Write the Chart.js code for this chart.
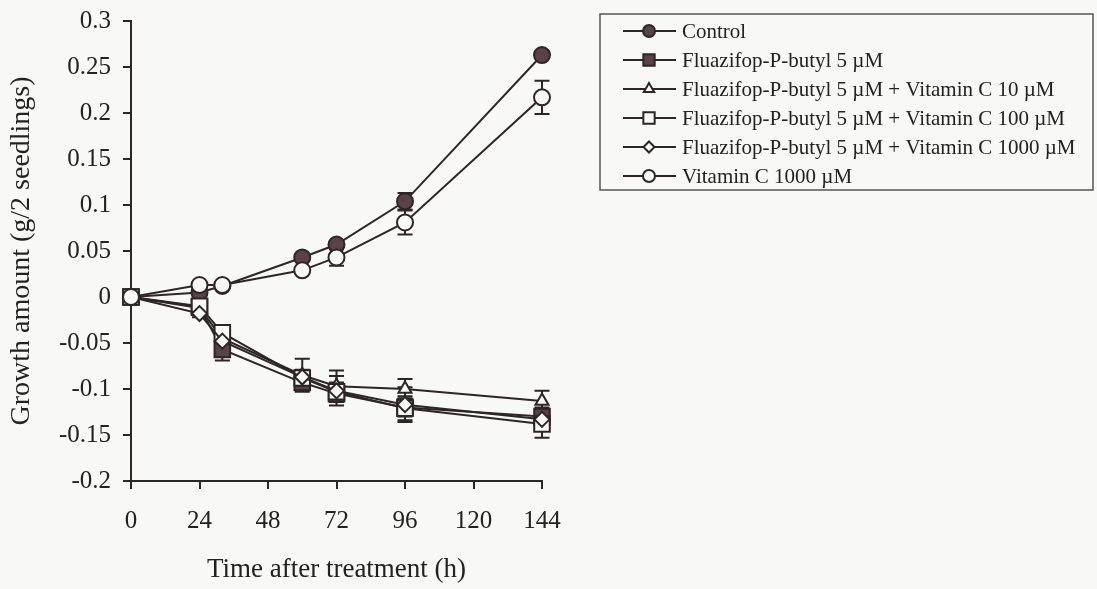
<!DOCTYPE html>
<html>
<head>
<meta charset="utf-8">
<script src="https://cdn.jsdelivr.net/npm/chart.js@4/dist/chart.umd.min.js"></script>
<style>
  html, body { margin: 0; padding: 0; background: #f8f8f6; }
  #wrap { width: 1097px; height: 589px; }
</style>
</head>
<body>
<div id="wrap"><canvas id="c" width="1097" height="589"></canvas></div>
<script>
// Sampling times (h)
const hours = [0, 24, 32, 60, 72, 96, 144];

// Growth amount (g/2 seedlings) per treatment
const control      = [0, 0.005, 0.012, 0.043, 0.057, 0.104, 0.263];
const fpb5         = [0, -0.011, -0.057, -0.093, -0.105, -0.120, -0.130];
const fpb5Vc10     = [0, -0.012, -0.045, -0.085, -0.097, -0.100, -0.113];
const fpb5Vc100    = [0, -0.010, -0.039, -0.088, -0.103, -0.121, -0.138];
const fpb5Vc1000   = [0, -0.018, -0.048, -0.087, -0.102, -0.117, -0.133];
const vc1000       = [0, 0.013, 0.013, 0.029, 0.043, 0.081, 0.217];

// Standard errors
const controlErr    = [0, 0.002, 0.002, 0.003, 0.004, 0.009, 0.004];
const fpb5Err       = [0, 0.004, 0.012, 0.008, 0.006, 0.010, 0.010];
const fpb5Vc10Err   = [0, 0.004, 0.008, 0.018, 0.017, 0.011, 0.011];
const fpb5Vc100Err  = [0, 0.004, 0.006, 0.008, 0.010, 0.013, 0.015];
const fpb5Vc1000Err = [0, 0.004, 0.006, 0.008, 0.016, 0.019, 0.010];
const vc1000Err     = [0, 0.002, 0.002, 0.003, 0.009, 0.013, 0.018];

const seriesLabels = [
  'Control',
  'Fluazifop-P-butyl 5 \u00b5M',
  'Fluazifop-P-butyl 5 \u00b5M + Vitamin C 10 \u00b5M',
  'Fluazifop-P-butyl 5 \u00b5M + Vitamin C 100 \u00b5M',
  'Fluazifop-P-butyl 5 \u00b5M + Vitamin C 1000 \u00b5M',
  'Vitamin C 1000 \u00b5M'
];

const xTicks = [0, 24, 48, 72, 96, 120, 144];

const INK = '#2d2527';
const FILL_DARK = '#5b4148';
const PAPER = '#f8f8f6';
const SERIF = '"Liberation Serif", "Times New Roman", serif';

function pts(vals) { return vals.map((v, i) => ({ x: hours[i], y: v })); }

const styles = [
  { pointStyle: 'circle',   radius: 8,  fill: FILL_DARK, legendRadius: 6 },
  { pointStyle: 'rect',     radius: 11, fill: FILL_DARK, legendRadius: 8 },
  { pointStyle: 'triangle', radius: 7.5, fill: PAPER,    legendRadius: 6 },
  { pointStyle: 'rect',     radius: 11, fill: PAPER,     legendRadius: 8 },
  { pointStyle: 'rectRot',  radius: 7.5, fill: PAPER,    legendRadius: 5.5 },
  { pointStyle: 'circle',   radius: 8,  fill: PAPER,     legendRadius: 6 }
];
const values = [control, fpb5, fpb5Vc10, fpb5Vc100, fpb5Vc1000, vc1000];
const errors = [controlErr, fpb5Err, fpb5Vc10Err, fpb5Vc100Err, fpb5Vc1000Err, vc1000Err];

const datasets = values.map((vals, i) => ({
  label: seriesLabels[i],
  data: pts(vals),
  errors: errors[i],
  order: values.length - i,          // later series sit on top
  clip: false,
  borderColor: INK,
  borderWidth: 2,
  pointStyle: styles[i].pointStyle,
  pointRadius: styles[i].radius,
  pointBackgroundColor: styles[i].fill,
  pointBorderColor: INK,
  pointBorderWidth: 2,
  legendRadius: styles[i].legendRadius,
  tension: 0,
  fill: false
}));

// Paper-coloured background
const paperBg = {
  id: 'paperBg',
  beforeDraw(chart) {
    const ctx = chart.ctx;
    ctx.save();
    ctx.fillStyle = PAPER;
    ctx.fillRect(0, 0, chart.width, chart.height);
    ctx.restore();
  }
};

// Vertical error bars with caps, drawn under the markers
const errorBars = {
  id: 'errorBars',
  beforeDatasetsDraw(chart) {
    const ctx = chart.ctx;
    const xs = chart.scales.x, ys = chart.scales.y;
    ctx.save();
    ctx.strokeStyle = INK;
    ctx.lineWidth = 2;
    chart.data.datasets.forEach(ds => {
      ds.data.forEach((p, i) => {
        const e = ds.errors[i];
        if (!e) return;
        const x = xs.getPixelForValue(p.x);
        const yTop = ys.getPixelForValue(p.y + e);
        const yBot = ys.getPixelForValue(p.y - e);
        ctx.beginPath();
        ctx.moveTo(x, yTop); ctx.lineTo(x, yBot);
        ctx.moveTo(x - 7.5, yTop); ctx.lineTo(x + 7.5, yTop);
        ctx.moveTo(x - 7.5, yBot); ctx.lineTo(x + 7.5, yBot);
        ctx.stroke();
      });
    });
    ctx.restore();
  }
};

// Boxed legend with line-and-marker keys
const boxLegend = {
  id: 'boxLegend',
  afterDraw(chart) {
    const ctx = chart.ctx;
    const left = 600, top = 14, right = 1093, bottom = 190;
    ctx.save();
    ctx.strokeStyle = '#555';
    ctx.lineWidth = 1.5;
    ctx.strokeRect(left, top, right - left, bottom - top);
    ctx.font = '21px ' + SERIF;
    ctx.textBaseline = 'middle';
    ctx.textAlign = 'left';
    chart.data.datasets.forEach((ds, i) => {
      const y = 31 + i * 29;
      ctx.strokeStyle = INK;
      ctx.lineWidth = 2;
      ctx.beginPath();
      ctx.moveTo(623, y); ctx.lineTo(676, y);
      ctx.stroke();
      ctx.fillStyle = ds.pointBackgroundColor;
      Chart.helpers.drawPoint(ctx, {
        pointStyle: ds.pointStyle, rotation: 0,
        radius: ds.legendRadius, borderWidth: 2
      }, 649, y);
      ctx.fillStyle = '#222';
      ctx.fillText(ds.label, 682, y + 1);
    });
    ctx.restore();
  }
};

new Chart(document.getElementById('c'), {
  type: 'line',
  data: { datasets },
  options: {
    responsive: false,
    animation: false,
    layout: { padding: { top: 21, right: 555, left: 0, bottom: 0 } },
    plugins: { legend: { display: false }, tooltip: { enabled: false } },
    scales: {
      x: {
        type: 'linear',
        min: 0, max: 144,
        afterBuildTicks: s => { s.ticks = xTicks.map(v => ({ value: v })); },
        afterFit: s => { s.height = 108; s.paddingLeft = 0; s.paddingRight = 0; },
        grid: { drawOnChartArea: false, drawTicks: true, tickLength: 8, color: INK, lineWidth: 2 },
        border: { display: true, color: INK, width: 2 },
        ticks: { color: '#222', font: { family: SERIF, size: 25 }, padding: 17, maxRotation: 0 },
        title: { display: true, text: 'Time after treatment (h)', color: '#222',
                 font: { family: SERIF, size: 27 }, padding: { top: 0, bottom: 3 } }
      },
      y: {
        min: -0.2, max: 0.3,
        ticks: { stepSize: 0.05, color: '#222', font: { family: SERIF, size: 25 }, padding: 12,
                 callback: v => String(+v.toFixed(2)) },
        afterFit: s => { s.width = 131; s.paddingTop = 0; s.paddingBottom = 0; },
        grid: { drawOnChartArea: false, drawTicks: true, tickLength: 8, color: INK, lineWidth: 2 },
        border: { display: true, color: INK, width: 2 },
        title: { display: true, text: 'Growth amount (g/2 seedlings)', color: '#222',
                 font: { family: SERIF, size: 28 }, padding: { top: 5, bottom: 0 } }
      }
    }
  },
  plugins: [paperBg, errorBars, boxLegend]
});
</script>
</body>
</html>
